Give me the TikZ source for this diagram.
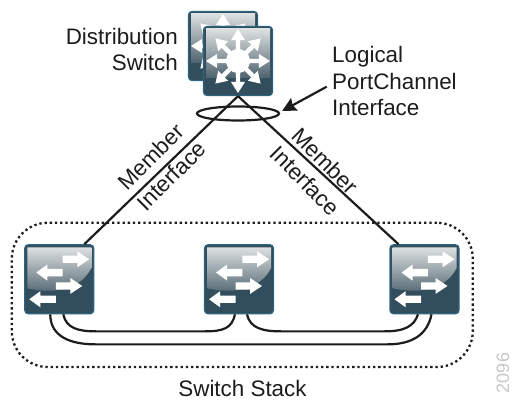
\documentclass[tikz,border=0pt]{standalone}
\usepackage{fontspec}
\setmainfont{Liberation Sans}
\usetikzlibrary{arrows.meta,shapes.geometric}
\definecolor{iconedge}{HTML}{2C6480}
\definecolor{icondark}{HTML}{324D5C}
\definecolor{iconlight}{HTML}{DDE0E0}
\definecolor{icongloss}{HTML}{4E636E}
\definecolor{inkline}{HTML}{1C1C1C}
\newcommand{\shaftarrow}[4]{% y, tail, neck, tip
  \fill[white,sharp corners] (#2,#1+3.7) -- (#3,#1+3.7) -- (#3,#1+8) -- (#4,#1) -- (#3,#1-8) -- (#3,#1-3.7) -- (#2,#1-3.7) -- cycle;}
\newcommand{\spokearrow}[1]{% angle
  \fill[white,sharp corners] (#1-15:8.3) -- (#1-6:21.1) -- (#1-18.4:22.1) -- (#1:32) -- (#1+18.4:22.1) -- (#1+6:21.1) -- (#1+15:8.3) -- cycle;}
\tikzset{
  iconbox/.style={rectangle, rounded corners=3.5pt, minimum size=69pt, inner sep=0pt,
    draw=iconedge, line width=1.2pt, fill=icondark},
  switchicon/.style={iconbox, path picture={
    \begin{scope}[shift={(path picture bounding box.center)}]
      \shade[sharp corners, top color=iconlight, bottom color=icongloss]
        (-32,32) -- (32,32) -- (32,11) .. controls (22,-8) and (0,-16) .. (-32,-9) -- cycle;
      \shaftarrow{20}{3.4}{18}{30}
      \shaftarrow{6.7}{3.4}{-12}{-23}
      \shaftarrow{-6.7}{-3.5}{11}{23}
      \shaftarrow{-20}{-3.3}{-19}{-30}
    \end{scope}}},
  routericon/.style={iconbox, path picture={
    \begin{scope}[shift={(path picture bounding box.center)}]
      \shade[sharp corners, top color=iconlight, bottom color=icongloss]
        (-32,32) -- (32,32) -- (32,-17) -- (-32,-17) -- cycle;
      \foreach \spoke in {0,45,90,135,180,225,270,315}
      \spokearrow{\spoke}
      \fill[white] (0,0) circle (11.7);
    \end{scope}}},
  caption/.style={font=\fontsize{22.4}{26.5}\selectfont, text=inkline, inner sep=0pt},
  uplink/.style={draw=inkline, line width=2.2pt},
  stackcable/.style={draw=inkline, line width=2.2pt},
}
\begin{document}
\begin{tikzpicture}[x=1pt,y=1pt]
    \useasboundingbox (0,0) rectangle (512,400);

    \node[routericon] (distback) at (223,354) {};
    \node[routericon] (distfront) at (238,339) {};
    \node[switchicon] (leftsw) at (59.25,120.75) {};
    \node[switchicon] (midsw) at (239,120.75) {};
    \node[switchicon] (rightsw) at (424.5,120.75) {};

    \draw[uplink] (distfront.south) -- ([xshift=-10pt]leftsw.north east);
    \draw[uplink] (distfront.south) -- ([xshift=9pt]rightsw.north west);
    \node[ellipse, draw=inkline, line width=2.2pt, minimum width=82pt, minimum height=14pt, inner sep=0pt] (lagring) at (238,286.5) {};

    \node[draw=inkline, line width=2.3pt, dash pattern=on 2.3pt off 2.9pt, rounded corners=36pt,
      minimum width=461pt, minimum height=144.3pt] (stackframe) at (242.3,105.1) {};

    \coordinate (arrowtail) at (326.7,313.3);
    \draw[uplink, -{Stealth[length=14pt,width=14pt,inset=2pt]}] (arrowtail) -- ([xshift=2pt,yshift=2.5pt]lagring.east);

    % stack cables
    \draw[stackcable] ([xshift=4pt]leftsw.south) .. controls +(3,-14) and +(-18,0) .. +(33,-17) -- ([xshift=-34pt,yshift=-17pt]midsw.south) .. controls +(18,0) and +(-3,-14) .. ([xshift=-4pt]midsw.south);
    \draw[stackcable] ([xshift=8pt]midsw.south) .. controls +(3,-14) and +(-18,0) .. +(34,-17) -- ([xshift=-40pt,yshift=-17pt]rightsw.south) .. controls +(20,0) and +(-4,-12) .. ([xshift=-6.5pt]rightsw.south);
    \draw[stackcable] ([xshift=-9pt]leftsw.south) .. controls +(0,-22) and +(-25,0) .. +(45,-30) -- ([xshift=-37pt,yshift=-30pt]rightsw.south) .. controls +(25,0) and +(-4,-20) .. ([xshift=7pt]rightsw.south);

    \node[caption, anchor=east, align=right] (distlabel) at (178,350.5) {Distribution\\Switch};
    \node[caption, anchor=west, align=left] (portlabel) at (332,319) {Logical\\PortChannel\\Interface};
    \node[caption, rotate=45] (memberl) at (150.7,243.3) {Member};
    \node[caption, rotate=45] (ifacel) at (171.3,224.3) {Interface};
    \node[caption, rotate=-45] (memberr) at (325.3,239.3) {Member};
    \node[caption, rotate=-45] (ifacer) at (305.3,219.3) {Interface};
    \node[caption, anchor=base] (stacklabel) at (242.5,3.5) {Switch Stack};
    \node[font=\fontsize{18}{18}\selectfont, text=black!22, rotate=90, inner sep=0pt] (figcode) at (503,27) {2096};
  \end{tikzpicture}
\end{document}
